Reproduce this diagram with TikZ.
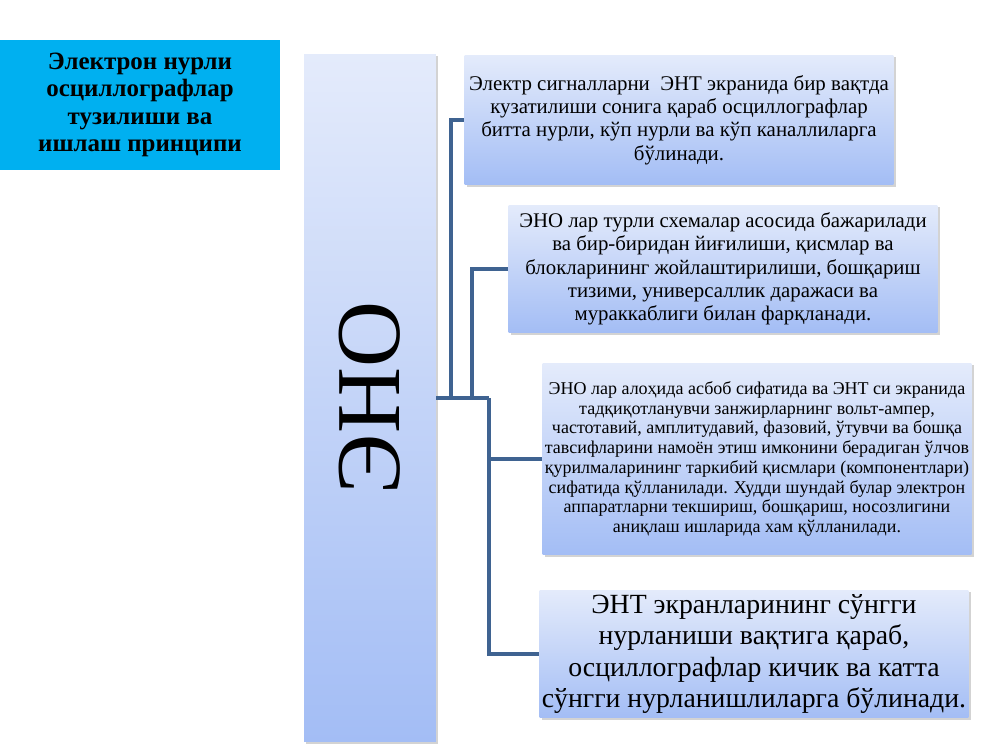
\documentclass[tikz,border=0pt]{standalone}
\usepackage{fontspec}
\IfFontExistsTF{LiberationSerif-Regular.ttf}
  {\setmainfont{LiberationSerif}[Extension=.ttf, UprightFont=*-Regular, BoldFont=*-Bold, ItalicFont=*-Italic, BoldItalicFont=*-BoldItalic]}
  {\setmainfont{Liberation Serif}}
\usepackage{tikz}
\usetikzlibrary{arrows}
\usetikzlibrary{shapes}
\usetikzlibrary{shadows}
\definecolor{titlecyan}{RGB}{0,176,240}
\definecolor{boxtop}{RGB}{228,235,251}
\definecolor{boxbottom}{RGB}{163,189,245}
\definecolor{linkblue}{RGB}{63,99,145}
\tikzstyle{titlebox} = [rectangle, minimum width=5.6cm, minimum height=2.6cm, align=center, fill=titlecyan, font=\fontsize{14.2}{15.7}\selectfont\bfseries]
\tikzstyle{bigbox} = [rectangle, top color=boxtop, bottom color=boxbottom, drop shadow={opacity=0.35, shadow xshift=1.2pt, shadow yshift=-1.2pt}]
\tikzstyle{infobox} = [bigbox, minimum width=8.58cm, align=center, inner sep=0pt]
\tikzstyle{link} = [line width=2pt, draw=linkblue]

\begin{document}
\begin{tikzpicture}[x=0.02cm, y=-0.02cm]

\useasboundingbox (0,0) rectangle (1000,750);

\node [titlebox] (title) at (140,105) {Электрон нурли\\осциллографлар\\тузилиши ва\\ишлаш принципи};

\node [bigbox, minimum width=2.64cm, minimum height=13.76cm] (eno) at (370,398) {};
\node [rotate=90, font=\fontsize{52}{52}\selectfont] (enolabel) at (eno.center) {ЭНО};

\node [infobox, minimum height=2.6cm, font=\fontsize{11.9}{13.3}\selectfont] (b1) at (679,120)
  {Электр сигналларни \ ЭНТ экранида бир вақтда\\кузатилиши сонига қараб осциллографлар\\битта нурли, кўп нурли ва кўп каналлиларга\\бўлинади.};
\node [infobox, minimum height=2.56cm, font=\fontsize{11.85}{13.3}\selectfont] (b2) at (723,269)
  {ЭНО лар турли схемалар асосида бажарилади\\ва бир-биридан йиғилиши, қисмлар ва\\блокларининг жойлаштирилиши, бошқариш\\тизими, универсаллик даражаси ва\\мураккаблиги билан фарқланади.};
\node [infobox, minimum height=3.84cm, font=\fontsize{10.25}{11.2}\selectfont] (b3) at (757,459)
  {ЭНО лар алоҳида асбоб сифатида ва ЭНТ си экранида\\тадқиқотланувчи занжирларнинг вольт-ампер,\\частотавий, амплитудавий, фазовий, ўтувчи ва бошқа\\тавсифларини намоён этиш имконини берадиган ўлчов\\қурилмаларининг таркибий қисмлари (компонентлари)\\сифатида қўлланилади. Худди шундай булар электрон\\аппаратларни текшириш, бошқариш, носозлигини\\аниқлаш ишларида хам қўлланилади.};
\node [infobox, minimum height=2.56cm, font=\fontsize{15.8}{17.8}\selectfont] (b4) at (754,654)
  {ЭНТ экранларининг сўнгги\\нурланиши вақтига қараб,\\осциллографлар кичик ва катта\\сўнгги нурланишлиларга бўлинади.};

\coordinate (j1) at (451,398);
\coordinate (j2) at (472,398);
\coordinate (j3) at (489,398);

\draw [link] (eno.east) -- (j3);
\draw [link] (j1) |- (b1.west);
\draw [link] (j2) |- (b2.west);
\draw [link] (j3) |- (b3.west);
\draw [link] (j3) |- (b4.west);

\end{tikzpicture}
\end{document}
